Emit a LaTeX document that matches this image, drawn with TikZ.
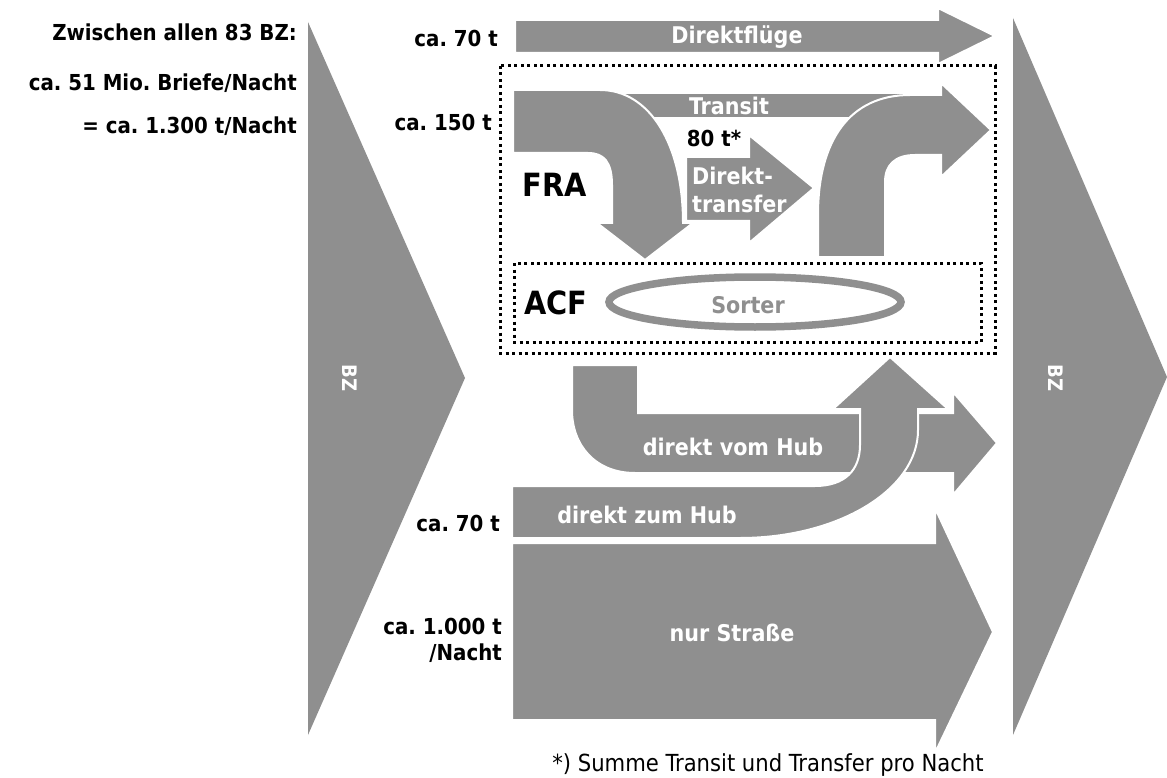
\documentclass[tikz,border=0pt]{standalone}
\usepackage{fontspec}
\setmainfont{DejaVu Sans Condensed}
\frenchspacing
\definecolor{flowgray}{RGB}{143,143,143}
\tikzset{
  flow/.style={fill=flowgray, draw=white, line width=2pt, line join=miter},
  flowtext/.style={text=white, font=\bfseries\fontsize{23}{27}\selectfont, inner sep=0pt},
  lbl/.style={font=\bfseries\fontsize{22}{26}\selectfont, anchor=east, inner sep=0pt},
  big/.style={font=\bfseries\fontsize{32}{36}\selectfont, inner sep=0pt},
  bzlbl/.style={text=white, font=\bfseries\fontsize{20}{24}\selectfont, inner sep=0pt, rotate=-90},
  dotbox/.style={draw=black, line width=3pt, dash pattern=on 3pt off 3.5pt},
}
\begin{document}
\begin{tikzpicture}[x=1pt, y=-1pt]
\useasboundingbox (0,0) rectangle (1167,778);

% Briefzentren as large wedges
\fill[flowgray] (308,22) -- (465,378) -- (308,735) -- cycle;
\fill[flowgray] (1013,18) -- (1167,377) -- (1013,735) -- cycle;
\node[bzlbl] (bzl) at (350,378) {BZ};
\node[bzlbl] (bzr) at (1056,378) {BZ};

% Summary on the left
\node[lbl] (s1) at (297,32) {Zwischen allen 83 BZ:};
\node[lbl] (s2) at (297,83) {ca. 51 Mio. Briefe/Nacht};
\node[lbl] (s3) at (297,126) {= ca. 1.300 t/Nacht};

% Direct flights
\path[flow] (515,20) -- (938,20) -- (938,8) -- (995,36) -- (938,64) -- (938,53) -- (515,53) -- cycle;
\node[flowtext] (direkt) at (737,37) {Direktflüge};
\node[lbl] (m70a) at (498,38) {ca. 70 t};

% Hub FRA: transit band (behind), arrival curve, departure curve, direct transfer
\path[flow] (600,93) rectangle (942,118);
\node[flowtext] (transit) at (729,106) {Transit};
\path[flow] (513,90) -- (600,90) .. controls (650,90) and (683,145) .. (683,223)
  -- (693,223) -- (645,260) -- (597,223) -- (612,223) -- (612,185)
  .. controls (612,162) and (604,153) .. (588,153) -- (513,153) -- cycle;
\path[flow] (818,257) -- (818,215) .. controls (818,140) and (850,95) .. (910,95)
  -- (941,95) -- (941,83) -- (991,130) -- (941,177) -- (941,155) -- (915,155)
  .. controls (895,155) and (885,165) .. (885,182) -- (885,257) -- cycle;
\path[flow] (686,157) -- (749,157) -- (749,135) -- (814,188) -- (749,243) -- (749,221) -- (686,221) -- cycle;
\node[flowtext, anchor=west, align=left] (dt) at (692,190) {Direkt-\\[1pt]transfer};
\node[font=\bfseries\fontsize{22}{26}\selectfont, inner sep=0pt] (t80) at (714,138) {80 t*};
\node[big] (fra) at (555,185) {FRA};
\node[lbl] (m150) at (492,122) {ca. 150 t};

% ACF sorter
\node[big] (acf) at (556,303) {ACF};
\draw[flowgray, line width=7.5pt] (755,302) ellipse [x radius=146, y radius=25];
\node[text=flowgray, font=\bfseries\fontsize{23}{27}\selectfont, inner sep=0pt] (sorter) at (748,305) {Sorter};

% Direct from hub (behind) and direct to hub
\path[flow] (572,365) -- (638,365) -- (638,413) -- (953,413) -- (953,392) -- (997,443)
  -- (953,495) -- (953,473) -- (635,473) .. controls (595,473) and (572,445) .. (572,410) -- cycle;
\node[flowtext] (vom) at (733,447) {direkt vom Hub};
\path[flow] (512,486) -- (815,486) .. controls (845,486) and (860,470) .. (860,445)
  -- (860,409) -- (833,409) -- (890,357) -- (948,409) -- (918,409) -- (918,430)
  .. controls (918,490) and (838,538) .. (740,538) -- (512,538) -- cycle;
\node[flowtext] (zum) at (647,515) {direkt zum Hub};
\node[lbl] (m70b) at (500,523) {ca. 70 t};

% Road only
\path[flow] (512,543) -- (935,543) -- (935,508) -- (993,632) -- (935,753) -- (935,720) -- (512,720) -- cycle;
\node[flowtext] (road) at (732,633) {nur Straße};
\node[lbl, align=right] (m1000) at (502,640) {ca. 1.000 t\\/Nacht};

% Hub boundaries
\draw[dotbox] (500,66) rectangle (995,353);
\draw[dotbox] (514,263) rectangle (981,342);

% Footnote
\node[font=\fontsize{23.5}{27}\selectfont, inner sep=0pt] (note) at (768,765) {*) Summe Transit und Transfer pro Nacht};
\end{tikzpicture}
\end{document}
